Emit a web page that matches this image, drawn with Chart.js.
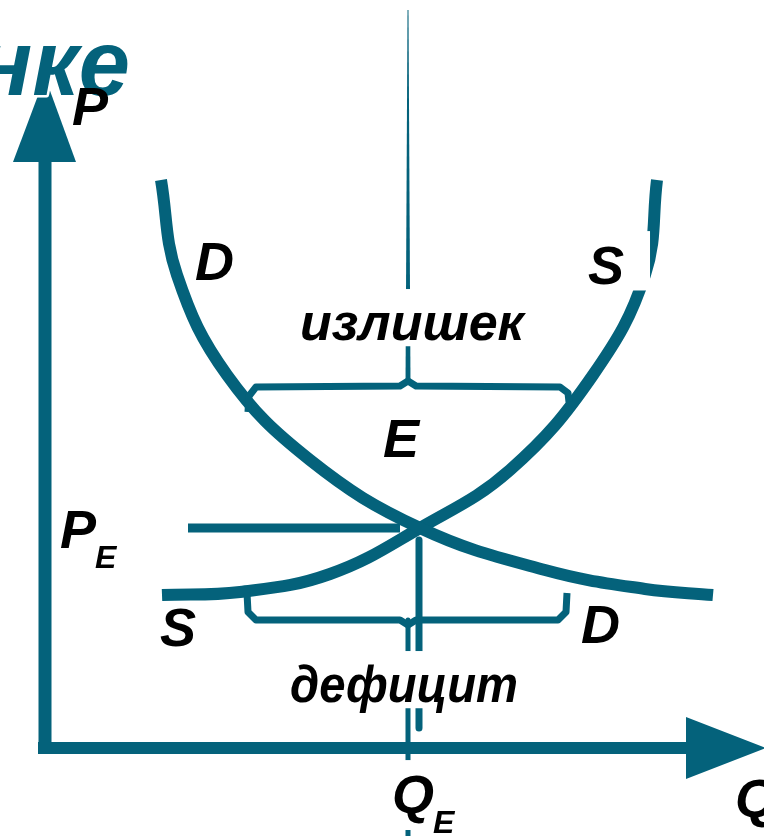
<!DOCTYPE html>
<html><head><meta charset="utf-8">
<script src="https://cdn.jsdelivr.net/npm/chart.js@4.4.1/dist/chart.umd.min.js"></script>
<style>html,body{margin:0;padding:0;background:#fff;overflow:hidden}canvas{display:block}</style>
</head><body>
<canvas id="c" width="764" height="836"></canvas>
<script>
// Quantity (Q) / price (P) values, in chart units (origin at the axes corner)
const demandQ = [116,132,182,265,375,500,600,668];
const demandP = [568,473,373,288,220,178,159,153];
const supplyQ = [117,195,285,375,465,548,600,612];
const supplyP = [153,156,174,220,278,373,473,568];
// equilibrium guide lines
const priceLineQ = [143,355];   const priceLineP = [220,220];
const qtyLineQ   = [374,374];   const qtyLineP   = [208,20];
// surplus bracket (above equilibrium) and shortage bracket (below)
const surplusQ = [203,204,211,355,363,371,515,523,524];
const surplusP = [336,352,361,362,367,362,361,355,346];
const surplusStemQ = [360.5,365.5,363.5,362.5];
const surplusStemP = [363,363,738,738];
const shortageQ = [202,203,211,355,363,371,513,521,522];
const shortageP = [155,136,128,128,123,128,128,136,155];
const shortageStemQ = [363,363];
const shortageStemP = [128,-88];
// axes
const yAxisQ = [0,0];     const yAxisP = [-6,586];
const xAxisQ = [-7,641];  const xAxisP = [0,0];
const yArrowQ = [-32,31,0];  const yArrowP = [586,586,671];
const xArrowQ = [641,641,721]; const xArrowP = [31,-31,0];

const teal = '#04627b';
const pts = (qs, ps) => qs.map((q,i)=>({x:q, y:ps[i]}));

const annotations = [
  {text:'нке', q:85, p:653, size:92, color:teal, align:'right', outline:true},
  {text:'P', q:27, p:623, size:54},
  {text:'D', q:150, p:468, size:54},
  {text:'S', q:543, p:464, size:54, box:true, boxPadR:22},
  {text:'излишек', q:255, p:408, size:52, box:true, fit:228},
  {text:'E', q:338, p:291, size:54},
  {text:'P', q:15, p:200, size:54, sub:'E'},
  {text:'S', q:115, p:102, size:54},
  {text:'D', q:536, p:105, size:54},
  {text:'дефицит', q:245, p:46, size:52, box:true, fit:228},
  {text:'Q', q:347, p:-65, size:54, sub:'E', box:true},
  {text:'Q', q:690, p:-69, size:54}
];

const line = (data, width, extra={}) => Object.assign({
  data, showLine:true, borderColor:teal, backgroundColor:teal, borderWidth:width,
  pointRadius:0, pointHoverRadius:0, fill:false, tension:0,
  borderCapStyle:'butt', borderJoinStyle:'round'
}, extra);
const shape = (data) => line(data, 0, {fill:'shape', borderWidth:0});

const textPlugin = {
  id:'texts',
  afterDatasetsDraw(chart){
    const {ctx, scales:{x, y}} = chart;
    annotations.forEach(a=>{
      const px = x.getPixelForValue(a.q), py = y.getPixelForValue(a.p);
      const f = s => `italic bold ${s}px "Liberation Sans", Arial, sans-serif`;
      ctx.save();
      ctx.font = f(a.size);
      let w = ctx.measureText(a.text).width;
      if (a.fit) w = Math.min(w, a.fit);
      const subSize = 32;
      let sw = 0;
      if (a.sub){ ctx.font = f(subSize); sw = ctx.measureText(a.sub).width; ctx.font = f(a.size); }
      if (a.box){
        ctx.fillStyle = '#fff';
        const top = py - a.size*0.98;
        const bottom = a.sub ? py + 17 : py + a.size*0.12;
        ctx.fillRect(px-4, top, w + sw + 8 + (a.boxPadR||0), bottom-top);
      }
      ctx.textBaseline = 'alphabetic';
      ctx.textAlign = a.align || 'left';
      if (a.outline){
        ctx.strokeStyle = '#fff'; ctx.lineWidth = 5; ctx.lineJoin='round';
        ctx.strokeText(a.text, px, py);
      }
      ctx.fillStyle = a.color || '#000';
      if (a.fit) ctx.fillText(a.text, px, py, a.fit); else ctx.fillText(a.text, px, py);
      if (a.sub){
        ctx.font = f(subSize);
        ctx.fillText(a.sub, px + w - 1, py + 20);
      }
      ctx.restore();
    });
  }
};

new Chart(document.getElementById('c'), {
  type:'scatter',
  data:{ datasets:[
    shape(pts(yArrowQ, yArrowP)),
    shape(pts(xArrowQ, xArrowP)),
    line(pts(yAxisQ, yAxisP), 13),
    line(pts(xAxisQ, xAxisP), 12),
    shape(pts(surplusStemQ, surplusStemP)),
    line(pts(shortageStemQ, shortageStemP), 5),
    line(pts(surplusQ, surplusP), 7),
    line(pts(shortageQ, shortageP), 7),
    line(pts(priceLineQ, priceLineP), 9),
    line(pts(qtyLineQ, qtyLineP), 7),
    line(pts(demandQ, demandP), 12, {tension:0.4}),
    line(pts(supplyQ, supplyP), 12, {tension:0.4})
  ]},
  options:{
    responsive:false, animation:false, devicePixelRatio:1,
    layout:{padding:0},
    plugins:{legend:{display:false}, tooltip:{enabled:false}},
    scales:{
      x:{type:'linear', min:-45, max:719, display:false},
      y:{type:'linear', min:-88, max:748, display:false}
    }
  },
  plugins:[textPlugin]
});
</script>
</body></html>
